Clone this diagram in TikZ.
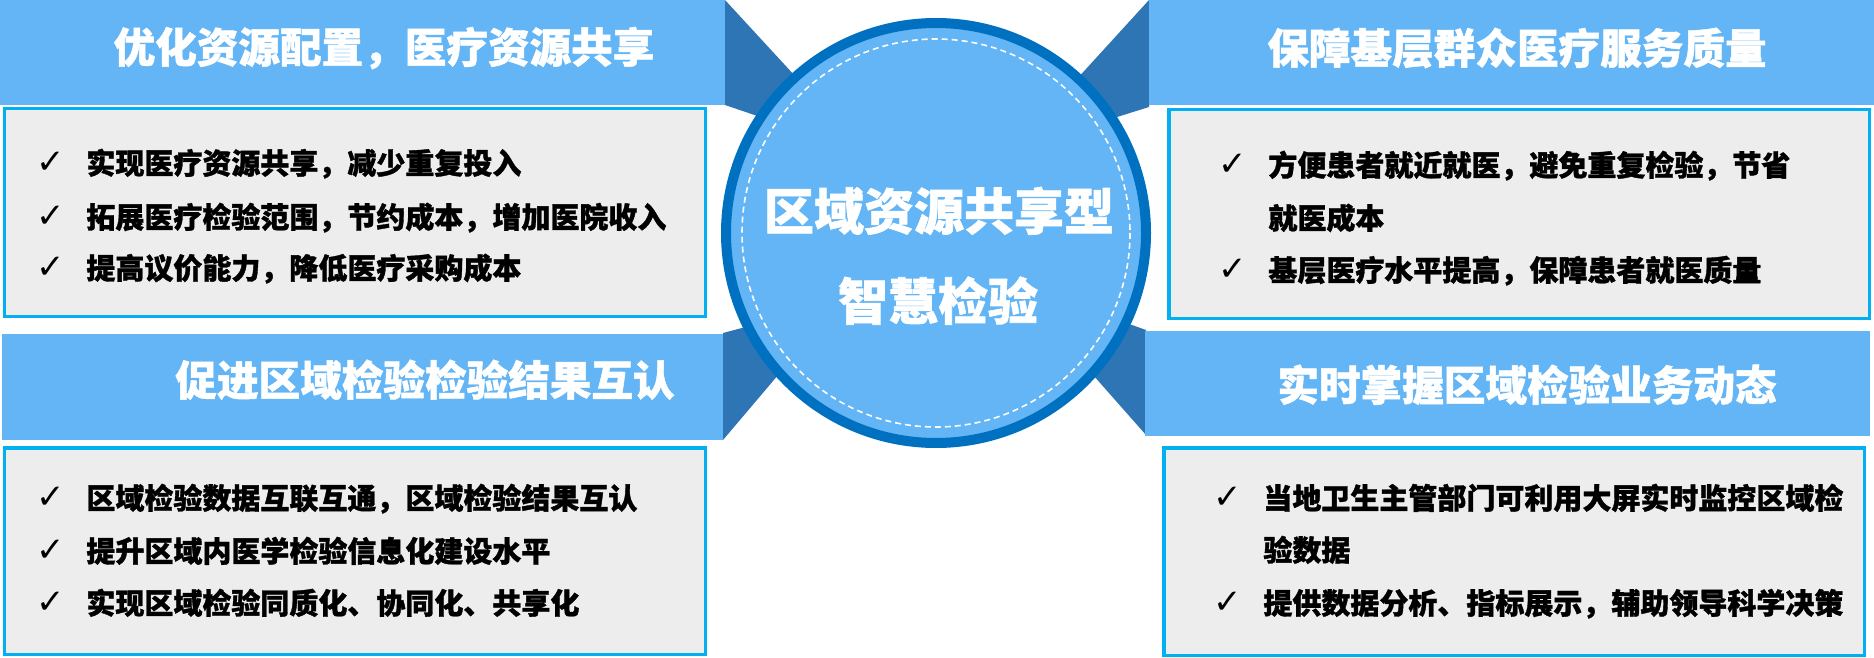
\documentclass[tikz,border=0pt]{standalone}
\usepackage{fontspec}
\setmainfont{Noto Sans CJK SC}[BoldFeatures={FakeBold=1.2}]
\newfontfamily\symfont{DejaVu Sans}
\definecolor{hdr}{HTML}{63B5F5}
\definecolor{foldc}{HTML}{2E75B6}
\definecolor{ringc}{HTML}{0070C0}
\definecolor{bord}{HTML}{00B0F0}
\definecolor{boxbg}{HTML}{EDEDED}
\begin{document}
\begin{tikzpicture}[x=0.5pt,y=-0.5pt,
  hdrfill/.style={fill=hdr},
  foldfill/.style={fill=foldc},
  itembox/.style={draw=bord,line width=1.75pt,fill=boxbg},
  hdrtext/.style={font=\bfseries\fontsize{20.8}{25}\selectfont,text=white,inner sep=0,text height=18.3pt,text depth=2.5pt},
  itemtext/.style={font=\bfseries\fontsize{14.5}{17}\selectfont,text=black,inner sep=0,anchor=west,text height=12.76pt,text depth=1.74pt},
  chk/.style={font=\symfont\fontsize{17}{19}\selectfont,inner sep=0},
  hubtext/.style={font=\bfseries\fontsize{25}{30}\selectfont,text=white,inner sep=0,text height=22pt,text depth=3pt}
]
\useasboundingbox (0,0) rectangle (1874,658);
% folds behind the hub
\fill[foldfill] (725,0) -- (866,153) -- (725,105) -- cycle;
\fill[foldfill] (1149,0) -- (1012,150) -- (1149,107) -- cycle;
\fill[foldfill] (723,333) -- (840,302) -- (723,440) -- cycle;
\fill[foldfill] (1146,330) -- (1011,282) -- (1146,435) -- cycle;
% headers
\fill[hdrfill] (0,0) rectangle (725,105);
\fill[hdrfill] (1149,0) rectangle (1874,105);
\fill[hdrfill] (2,334) rectangle (723,440);
\fill[hdrfill] (1145,331) rectangle (1870,436);
\node[hdrtext] (h1) at (384,47) {优化资源配置，医疗资源共享};
\node[hdrtext] (h2) at (1517,48) {保障基层群众医疗服务质量};
\node[hdrtext] (h3) at (425,380) {促进区域检验检验结果互认};
\node[hdrtext] (h4) at (1527,385) {实时掌握区域检验业务动态};
% item boxes
\draw[itembox] (4.25,108.75) rectangle (705.25,316.25);
\draw[itembox] (1168.75,109.75) rectangle (1869.25,318.25);
\draw[itembox] (4.25,447.75) rectangle (705.25,654.25);
\draw[itembox] (1163.75,447.75) rectangle (1864.25,655.25);
% box 1
\node[chk] (c11) at (51,163) {✓};
\node[itemtext] (t11) at (86,163) {实现医疗资源共享，减少重复投入};
\node[chk] (c12) at (51,217) {✓};
\node[itemtext] (t12) at (86,217) {拓展医疗检验范围，节约成本，增加医院收入};
\node[chk] (c13) at (51,268) {✓};
\node[itemtext] (t13) at (86,268) {提高议价能力，降低医疗采购成本};
% box 2
\node[chk] (c21) at (1233,165) {✓};
\node[itemtext] (t21) at (1268,165) {方便患者就近就医，避免重复检验，节省};
\node[itemtext] (t21b) at (1268,218) {就医成本};
\node[chk] (c22) at (1233,270) {✓};
\node[itemtext] (t22) at (1268,270) {基层医疗水平提高，保障患者就医质量};
% box 3
\node[chk] (c31) at (51,498) {✓};
\node[itemtext] (t31) at (86,498) {区域检验数据互联互通，区域检验结果互认};
\node[chk] (c32) at (51,551) {✓};
\node[itemtext] (t32) at (86,551) {提升区域内医学检验信息化建设水平};
\node[chk] (c33) at (51,603) {✓};
\node[itemtext] (t33) at (86,603) {实现区域检验同质化、协同化、共享化};
% box 4
\node[chk] (c41) at (1228,498) {✓};
\node[itemtext] (t41) at (1263,498) {当地卫生主管部门可利用大屏实时监控区域检};
\node[itemtext] (t41b) at (1263,550) {验数据};
\node[chk] (c42) at (1228,603) {✓};
\node[itemtext] (t42) at (1263,603) {提供数据分析、指标展示，辅助领导科学决策};
% hub
\node[circle,draw=ringc,line width=5pt,fill=hdr,minimum size=210pt,inner sep=0] (hub) at (936,233) {};
\draw[white,line width=0.8pt,dash pattern=on 3pt off 2pt] (hub.center) circle[radius=194];
\node[hubtext] (hub1) at (939,211) {区域资源共享型};
\node[hubtext] (hub2) at (938,301) {智慧检验};
\end{tikzpicture}
\end{document}
